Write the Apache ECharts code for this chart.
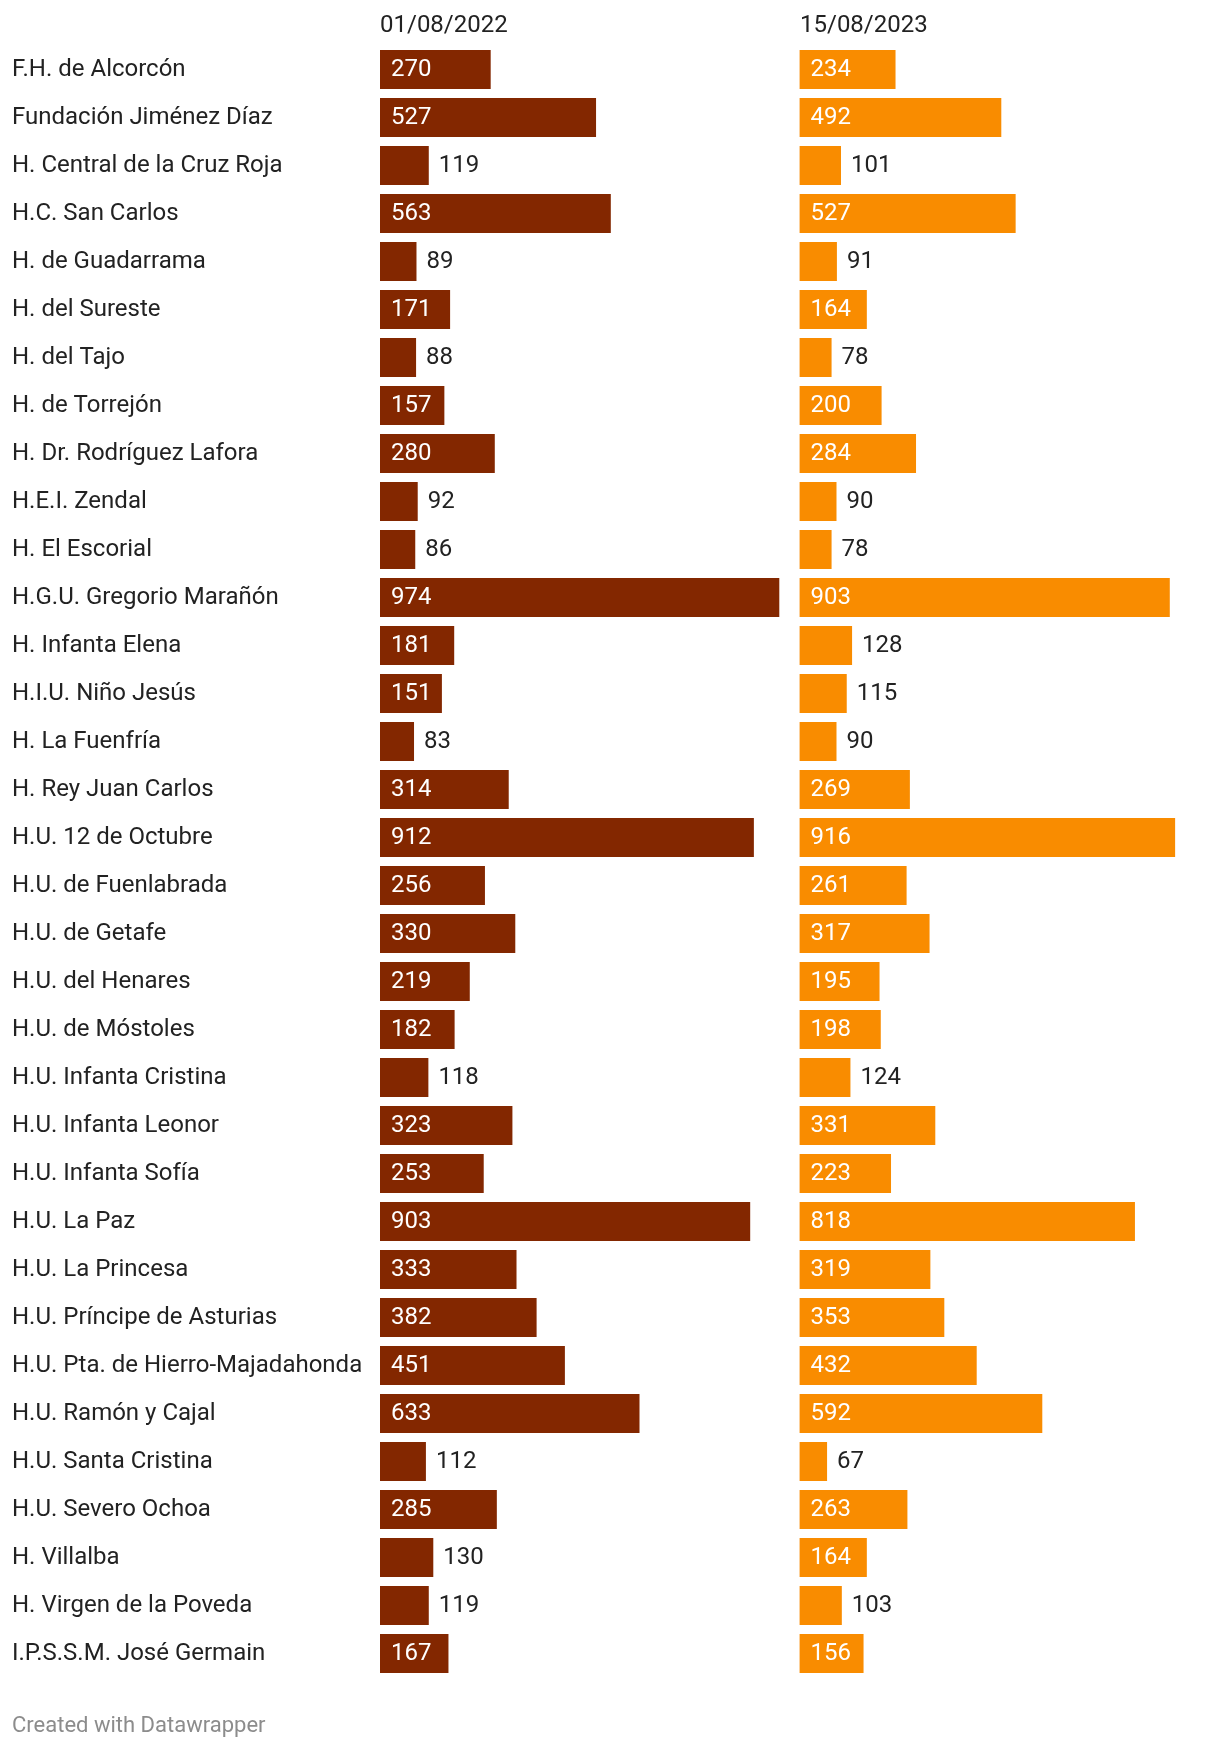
<!DOCTYPE html>
<html>
<head>
<meta charset="utf-8">
<script src="https://cdn.jsdelivr.net/npm/echarts@6/dist/echarts.min.js"></script>
<style>
  html, body { margin: 0; padding: 0; background: #fff; }
  #chart { width: 1220px; height: 1748px; }
</style>
</head>
<body>
<div id="chart"></div>
<script>
var hospitals = [
  'F.H. de Alcorcón', 'Fundación Jiménez Díaz', 'H. Central de la Cruz Roja', 'H.C. San Carlos',
  'H. de Guadarrama', 'H. del Sureste', 'H. del Tajo', 'H. de Torrejón', 'H. Dr. Rodríguez Lafora',
  'H.E.I. Zendal', 'H. El Escorial', 'H.G.U. Gregorio Marañón', 'H. Infanta Elena', 'H.I.U. Niño Jesús',
  'H. La Fuenfría', 'H. Rey Juan Carlos', 'H.U. 12 de Octubre', 'H.U. de Fuenlabrada', 'H.U. de Getafe',
  'H.U. del Henares', 'H.U. de Móstoles', 'H.U. Infanta Cristina', 'H.U. Infanta Leonor',
  'H.U. Infanta Sofía', 'H.U. La Paz', 'H.U. La Princesa', 'H.U. Príncipe de Asturias',
  'H.U. Pta. de Hierro-Majadahonda', 'H.U. Ramón y Cajal', 'H.U. Santa Cristina', 'H.U. Severo Ochoa',
  'H. Villalba', 'H. Virgen de la Poveda', 'I.P.S.S.M. José Germain'
];
var valores2022 = [270, 527, 119, 563, 89, 171, 88, 157, 280, 92, 86, 974, 181, 151, 83, 314, 912, 256, 330,
  219, 182, 118, 323, 253, 903, 333, 382, 451, 633, 112, 285, 130, 119, 167];
var valores2023 = [234, 492, 101, 527, 91, 164, 78, 200, 284, 90, 78, 903, 128, 115, 90, 269, 916, 261, 317,
  195, 198, 124, 331, 223, 818, 319, 353, 432, 592, 67, 263, 164, 103, 156];
var fechas = ['01/08/2022', '15/08/2023'];

var FONT = 'Roboto';
var maxVal = 974;
var rowH = 48;
var gridTop = 45.5;
var plotW = 399.3;

// etiqueta dentro de la barra si cabe, si no fuera
function toData(arr) {
  return arr.map(function (v) {
    var inside = v >= 140;
    return {
      value: v,
      label: {
        position: inside ? 'insideLeft' : 'right',
        distance: inside ? 11 : 10,
        color: inside ? '#ffffff' : '#222222'
      }
    };
  });
}

var chart = echarts.init(document.getElementById('chart'));
var option = {
  animation: false,
  title: [
    { text: fechas[0], left: 380, top: 14, padding: 0, textStyle: { fontFamily: FONT, fontSize: 24, fontWeight: 'normal', color: '#222' } },
    { text: fechas[1], left: 800, top: 14, padding: 0, textStyle: { fontFamily: FONT, fontSize: 24, fontWeight: 'normal', color: '#222' } },
    { text: 'Created with Datawrapper', left: 12, top: 1715, padding: 0, textStyle: { fontFamily: FONT, fontSize: 22, fontWeight: 'normal', color: '#8c8c8c' } }
  ],
  grid: [
    { left: 380, top: gridTop, width: plotW, height: rowH * hospitals.length },
    { left: 799.6, top: gridTop, width: plotW, height: rowH * hospitals.length }
  ],
  xAxis: [
    { gridIndex: 0, type: 'value', min: 0, max: maxVal, show: false },
    { gridIndex: 1, type: 'value', min: 0, max: maxVal, show: false }
  ],
  yAxis: [
    {
      gridIndex: 0, type: 'category', data: hospitals, inverse: true,
      axisLine: { show: false }, axisTick: { show: false },
      axisLabel: { align: 'left', margin: 368, fontFamily: FONT, fontSize: 24, color: '#222' }
    },
    {
      gridIndex: 1, type: 'category', data: hospitals, inverse: true,
      axisLine: { show: false }, axisTick: { show: false }, axisLabel: { show: false }
    }
  ],
  series: [
    {
      type: 'bar', xAxisIndex: 0, yAxisIndex: 0, data: toData(valores2022),
      barWidth: 39, itemStyle: { color: '#832700' },
      label: { show: true, fontFamily: FONT, fontSize: 24 }
    },
    {
      type: 'bar', xAxisIndex: 1, yAxisIndex: 1, data: toData(valores2023),
      barWidth: 39, itemStyle: { color: '#f98c00' },
      label: { show: true, fontFamily: FONT, fontSize: 24 }
    }
  ]
};
chart.setOption(option);
</script>
</body>
</html>
